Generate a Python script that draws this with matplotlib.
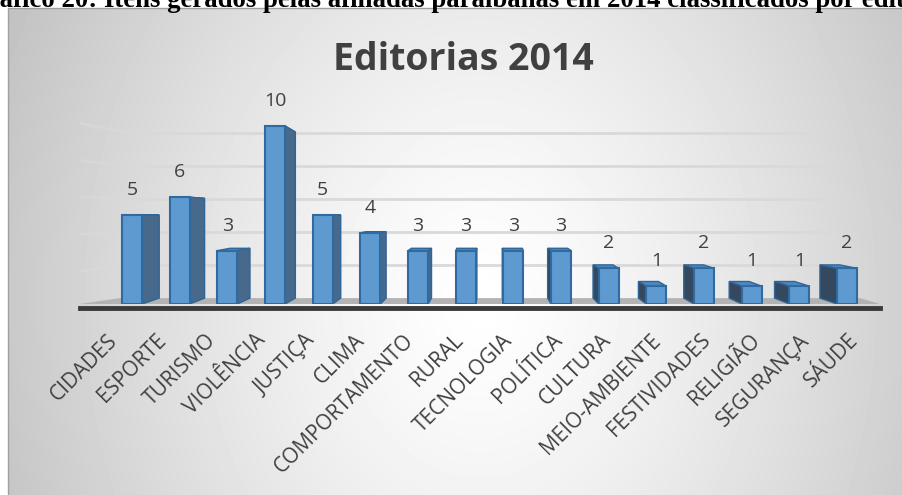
import numpy as np
import matplotlib
matplotlib.use('Agg')
import matplotlib.pyplot as plt
from matplotlib.patches import Rectangle, Polygon
import matplotlib.transforms as mtransforms

plt.rcParams['font.family'] = ['Open Sans', 'DejaVu Sans']

categories = ['CIDADES', 'ESPORTE', 'TURISMO', 'VIOLÊNCIA', 'JUSTIÇA', 'CLIMA',
              'COMPORTAMENTO', 'RURAL', 'TECNOLOGIA', 'POLÍTICA', 'CULTURA',
              'MEIO-AMBIENTE', 'FESTIVIDADES', 'RELIGIÃO', 'SEGURANÇA', 'SÁUDE']
values = [5, 6, 3, 10, 5, 4, 3, 3, 3, 3, 2, 1, 2, 1, 1, 2]
grid_vals = [2, 4, 6, 8, 10]
title = 'Editorias 2014'
caption = 'Gráfico 20: Itens gerados pelas afiliadas paraibanas em 2014 classificados por editorias'

W, H = 902, 495
fig = plt.figure(figsize=(W / 100, H / 100), dpi=100)
fig.patch.set_facecolor('white')

# panel background (radial gradient)
px0, py0 = 8, 8
bg = fig.add_axes([px0 / W, 0, 1 - px0 / W, 1 - py0 / H], zorder=-10)
gx, gy = np.meshgrid(np.arange(px0, W), np.arange(py0, H))
r = np.sqrt(((gx - 480) / 470.0) ** 2 + ((gy - 300) / 600.0) ** 2)
shade = 1 - 0.21 * r ** 1.3
bg.imshow(shade, cmap='gray', vmin=0, vmax=1, aspect='auto', interpolation='bilinear')
bg.set_axis_off()
fig.patches.append(Rectangle((px0 / W, -0.01), 1, 1 - py0 / H + 0.01, transform=fig.transFigure,
                             fill=False, edgecolor='#a0a0a0', linewidth=1, zorder=-5))

rect = [79.6 / W, (H - 304) / H, 800.4 / W, 195.8 / H]

# back wall with gridlines
wall = fig.add_axes(rect, zorder=-2)
wall.set_xlim(-1.1, 15.69)
wall.set_ylim(-0.364, 11.52)
wall.set_axis_off()
wall.patch.set_visible(False)
btrans = mtransforms.blended_transform_factory(wall.transAxes, wall.transData)
for g in grid_vals:
    wall.plot([0.063, 0.937], [g, g], color='#d9d9d9', lw=2, transform=btrans)
    wall.plot([0.0, 0.063], [g + (g - 5) * 0.12, g], color='#d9d9d9', lw=2, alpha=0.7,
              transform=btrans)

ax = fig.add_axes(rect, zorder=1)
ax.patch.set_visible(False)
ax.set_xlim(-1.1, 15.69)
ax.set_ylim(0, 11)
for s in ['top', 'left', 'right']:
    ax.spines[s].set_visible(False)
ax.spines['bottom'].set_position(('outward', 3))
ax.spines['bottom'].set_linewidth(3.5)
ax.spines['bottom'].set_color('#3a3a3a')

# floor
ftrans = mtransforms.blended_transform_factory(ax.transAxes, ax.transData)
ax.add_patch(Polygon([(0, 0), (1, 0), (0.975, 0.33), (0.05, 0.33)], closed=True,
                     facecolor='#b3b3b3', edgecolor='none', transform=ftrans, zorder=0))

idx = np.arange(len(values))
w = 0.42
k = 0.067
vy = 4.94


def back(y):
    return y + (vy - y) * k


for i, v in zip(idx, values):
    d = 1 if i < 7.5 else -1
    sw = 0.048 * abs(i - 7.5)
    edge = i + d * w / 2
    side_col = '#46698c' if d > 0 else '#34495f'
    ax.add_patch(Polygon([(i - w / 2, v), (i + w / 2, v), (i + w / 2 + d * sw, back(v)),
                          (i - w / 2 + d * sw, back(v))], closed=True,
                         facecolor='#4f88bf', edgecolor='#2f6699', lw=1, zorder=2))
    ax.add_patch(Polygon([(edge, 0), (edge, v), (edge + d * sw, back(v)), (edge + d * sw, back(0))],
                         closed=True, facecolor=side_col, edgecolor='#2f6699', lw=1, zorder=2))

ax.bar(idx, values, width=w, color='#5e9acf', edgecolor='#2f6aa0', linewidth=1.5, zorder=3)

for i, v in zip(idx, values):
    ax.annotate(str(v), (i, v), xytext=(0, 18), textcoords='offset points',
                ha='center', va='center', fontsize=14, color='#404040')

label_x = idx * 1.037 - 0.38
ax.set_xticks(label_x)
ax.set_xticklabels(categories, rotation=45, ha='right', va='center', rotation_mode='anchor',
                   fontsize=15, color='#404040')
ax.tick_params(axis='x', length=0, pad=21)
ax.set_yticks([])

fig.text(463.5 / W, 1 - 70 / H, title, ha='center', va='baseline', fontsize=27,
         fontweight='bold', color='#404040')
fig.text(-33 / W, 1 - 7 / H, caption, ha='left', va='baseline', fontsize=19.3,
         fontweight='bold', family=['Liberation Serif'], color='black', zorder=10)

fig.savefig('out.png', dpi=100)
